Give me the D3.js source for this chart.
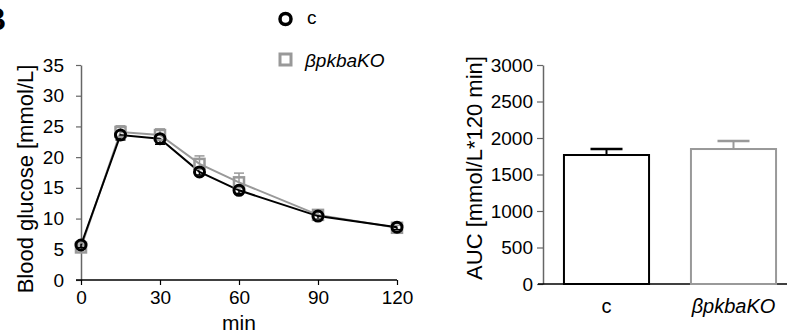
<!DOCTYPE html>
<html>
<head>
<meta charset="utf-8">
<script src="https://cdn.jsdelivr.net/npm/d3@7"></script>
<style>
  body { margin: 0; background: #fff; }
  svg { display: block; font-family: "Liberation Sans", Arial, sans-serif; }
</style>
</head>
<body>
<svg id="fig" width="787" height="334"></svg>
<script>
// time course data (min, mmol/L)
var times = [0, 15, 30, 45, 60, 90, 120];
var ctrlMean = [5.7, 23.6, 23.0, 17.6, 14.6, 10.4, 8.6];
var ctrlErr  = [0.4, 0.8, 0.9, 0.5, 0.5, 0.5, 0.4];
var koMean   = [5.3, 24.1, 23.6, 18.9, 15.9, 10.6, 8.5];
var koErr    = [0.4, 1.0, 1.0, 1.3, 1.5, 0.5, 0.4];
var xTicks = [0, 30, 60, 90, 120];
var yTicks = [0, 5, 10, 15, 20, 25, 30, 35];

// AUC data
var groups = ["c", "βpkbaKO"];
var aucMean = [1767, 1849];
var aucErr  = [82, 110];
var aucTicks = [0, 500, 1000, 1500, 2000, 2500, 3000];

var colors = ["#000000", "#999999"];
var axisGrey = "#666";

var svg = d3.select("#fig");

// panel letter, mostly cut off at the left edge
svg.append("text")
    .attr("x", -17).attr("y", 30)
    .style("font-size", "32px").style("font-weight", "bold")
    .text("B");

// ---------- left panel: glucose curve ----------
var x = d3.scaleLinear().domain([0, 120]).range([81, 397]);
var y = d3.scaleLinear().domain([0, 35]).range([280, 65]);

var g = svg.append("g");

var yAxis = g.append("g")
    .attr("transform", "translate(81,0)")
    .call(d3.axisLeft(y).tickValues(yTicks).tickSize(5).tickPadding(12).tickSizeOuter(0));
yAxis.select(".domain").attr("stroke", axisGrey).attr("stroke-width", 1.5);
yAxis.selectAll(".tick line").attr("stroke", axisGrey).attr("stroke-width", 1.2);
yAxis.selectAll("text").style("font-size", "19px").attr("fill", "#000");

var xAxis = g.append("g")
    .attr("transform", "translate(0,280)")
    .call(d3.axisBottom(x).tickValues(xTicks).tickSize(5).tickPadding(6).tickSizeOuter(0));
xAxis.select(".domain").attr("stroke", "#000").attr("stroke-width", 1.5)
    .attr("d", "M76,0H" + x(120));
xAxis.selectAll(".tick line").attr("stroke", "#000").attr("stroke-width", 1.2);
xAxis.selectAll("text").style("font-size", "19px").attr("fill", "#000");

g.append("text")
    .attr("transform", "translate(33,179) rotate(-90)")
    .attr("text-anchor", "middle")
    .style("font-size", "22px")
    .text("Blood glucose [mmol/L]");

g.append("text")
    .attr("x", 239).attr("y", 330)
    .attr("text-anchor", "middle")
    .style("font-size", "21px")
    .text("min");

var series = [
    {mean: koMean, err: koErr, color: colors[1], shape: "square"},
    {mean: ctrlMean, err: ctrlErr, color: colors[0], shape: "circle"}
];

var line = d3.line()
    .x(function(d) { return x(d[0]); })
    .y(function(d) { return y(d[1]); });

series.forEach(function(s) {
    var pts = times.map(function(t, i) { return [t, s.mean[i], s.err[i]]; });
    // error bars: KO upward, control downward
    var dir = s.shape === "square" ? 1 : -1;
    pts.forEach(function(p) {
        var yEnd = y(p[1] + dir * p[2]);
        g.append("line")
            .attr("x1", x(p[0])).attr("x2", x(p[0]))
            .attr("y1", y(p[1])).attr("y2", yEnd)
            .attr("stroke", s.color).attr("stroke-width", 1.5);
        g.append("line")
            .attr("x1", x(p[0]) - 5).attr("x2", x(p[0]) + 5)
            .attr("y1", yEnd).attr("y2", yEnd)
            .attr("stroke", s.color).attr("stroke-width", 1.5);
    });
    g.append("path")
        .datum(pts)
        .attr("d", line)
        .attr("fill", "none")
        .attr("stroke", s.color)
        .attr("stroke-width", 2);
});

series.forEach(function(s) {
    var pts = times.map(function(t, i) { return [t, s.mean[i]]; });
    if (s.shape === "square") {
        g.selectAll(".sq").data(pts).enter().append("rect")
            .attr("x", function(d) { return x(d[0]) - 5; })
            .attr("y", function(d) { return y(d[1]) - 5; })
            .attr("width", 10).attr("height", 10)
            .attr("fill", "none")
            .attr("stroke", s.color).attr("stroke-width", 2.5);
    } else {
        g.selectAll(".ci").data(pts).enter().append("circle")
            .attr("cx", function(d) { return x(d[0]); })
            .attr("cy", function(d) { return y(d[1]); })
            .attr("r", 5)
            .attr("fill", "none")
            .attr("stroke", s.color).attr("stroke-width", 3);
    }
});

// legend
var leg = svg.append("g");
leg.append("circle").attr("cx", 285.5).attr("cy", 19).attr("r", 5.5)
    .attr("fill", "none").attr("stroke", colors[0]).attr("stroke-width", 3.5);
leg.append("text").attr("x", 307).attr("y", 24).style("font-size", "19px").text(groups[0]);
leg.append("rect").attr("x", 280).attr("y", 54).attr("width", 11).attr("height", 11)
    .attr("fill", "none").attr("stroke", colors[1]).attr("stroke-width", 3);
leg.append("text").attr("x", 305).attr("y", 67).style("font-size", "19px")
    .style("font-style", "italic").text(groups[1]);

// ---------- right panel: AUC bars ----------
var xb = d3.scaleBand().domain(groups).range([543, 797]).paddingInner(0.33).paddingOuter(0.165);
var yb = d3.scaleLinear().domain([0, 3000]).range([284, 65]);

var h = svg.append("g");

var ybAxis = h.append("g")
    .attr("transform", "translate(543,0)")
    .call(d3.axisLeft(yb).tickValues(aucTicks).tickFormat(d3.format("d"))
        .tickSize(6).tickPadding(4).tickSizeOuter(0));
ybAxis.select(".domain").attr("stroke", axisGrey).attr("stroke-width", 1.5);
ybAxis.selectAll(".tick line").attr("stroke", axisGrey).attr("stroke-width", 1.2);
ybAxis.selectAll("text").style("font-size", "19px").attr("fill", "#000");

h.append("line")
    .attr("x1", 538).attr("x2", 787)
    .attr("y1", yb(0)).attr("y2", yb(0))
    .attr("stroke", "#000").attr("stroke-width", 1.5);

h.selectAll(".lbl").data(groups).enter().append("text")
    .attr("x", function(d) { return xb(d) + xb.bandwidth() / 2; })
    .attr("y", 313)
    .attr("text-anchor", "middle")
    .style("font-size", "20px")
    .style("font-style", function(d, i) { return i === 1 ? "italic" : "normal"; })
    .text(function(d) { return d; });

h.append("text")
    .attr("transform", "translate(482,168) rotate(-90)")
    .attr("text-anchor", "middle")
    .style("font-size", "22px")
    .text("AUC [mmol/L*120 min]");

groups.forEach(function(grp, i) {
    var cx = xb(grp) + xb.bandwidth() / 2;
    var top = yb(aucMean[i] + aucErr[i]);
    h.append("line")
        .attr("x1", cx).attr("x2", cx)
        .attr("y1", yb(aucMean[i])).attr("y2", top)
        .attr("stroke", colors[i]).attr("stroke-width", 2);
    h.append("line")
        .attr("x1", cx - 16).attr("x2", cx + 16)
        .attr("y1", top).attr("y2", top)
        .attr("stroke", colors[i]).attr("stroke-width", 2.5);
    h.append("rect")
        .attr("x", xb(grp))
        .attr("y", yb(aucMean[i]))
        .attr("width", xb.bandwidth())
        .attr("height", yb(0) - yb(aucMean[i]))
        .attr("fill", "#fff")
        .attr("stroke", colors[i])
        .attr("stroke-width", 2);
});
</script>
</body>
</html>
